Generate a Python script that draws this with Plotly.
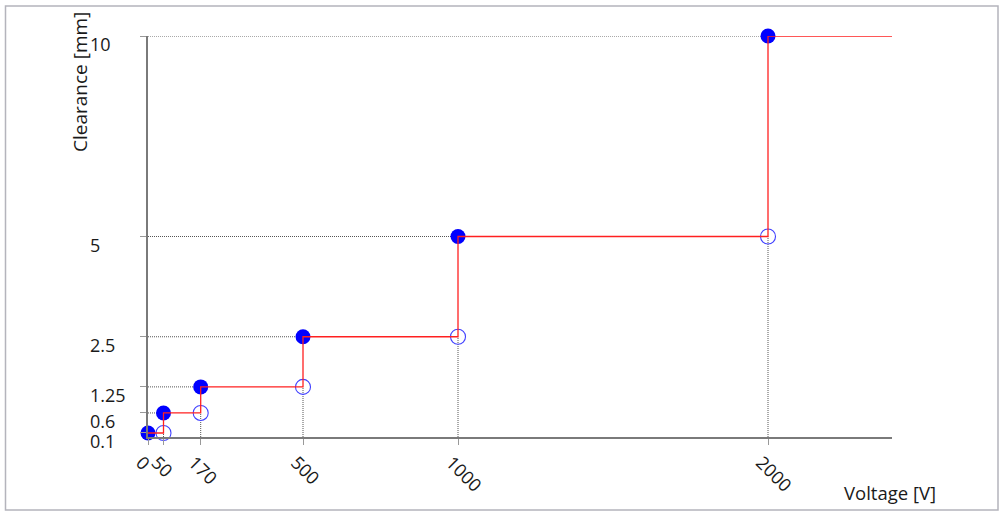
import plotly.graph_objects as go

# Data
voltage = [0, 50, 170, 500, 1000, 2000]
clearance = [0.1, 0.6, 1.25, 2.5, 5, 10]
x_end = 2400
x_ticks = [0, 50, 170, 500, 1000, 2000]
y_ticks = [0.1, 0.6, 1.25, 2.5, 5, 10]
y_tick_labels = ["0.1", "0.6", "1.25", "2.5", "5", "10"]

FONT = "Open Sans"
TXT = "#1a1a1a"

# open markers: step start (left-limit values)
open_x = voltage[1:]
open_y = clearance[:-1]

# step line
step_x = voltage + [x_end]
step_y = clearance + [clearance[-1]]

# dotted drop lines
dx, dy = [], []
for xv, yv, yprev in zip(voltage[1:], clearance[1:], clearance[:-1]):
    dx += [0, xv, None]
    dy += [yv, yv, None]
    dx += [xv, xv, None]
    dy += [0, yprev, None]

fig = go.Figure()
fig.add_trace(go.Scatter(x=dx, y=dy, mode="lines",
                         line=dict(color="#555555", width=1, dash="1px,1px"),
                         hoverinfo="skip", cliponaxis=False))
fig.add_trace(go.Scatter(x=open_x, y=open_y, mode="markers",
                         marker=dict(size=15, color="rgba(0,0,0,0)",
                                     line=dict(color="#4040ff", width=1.1)),
                         cliponaxis=False))
fig.add_trace(go.Scatter(x=voltage, y=clearance, mode="markers",
                         marker=dict(size=15, color="#0000ff", line=dict(width=0)),
                         cliponaxis=False))
fig.add_trace(go.Scatter(x=step_x, y=step_y, mode="lines", line_shape="hv",
                         line=dict(color="#ff2020", width=1.3), cliponaxis=False))

W, H = 1000, 515
L, R, T, B = 148, 108, 36, 78
pw, ph = W - L - R, H - T - B

def px_x(p):
    return (p - L) / pw

def px_y(p):
    return (H - B - p) / ph

annotations = []
for yv, lab in zip(y_ticks, y_tick_labels):
    annotations.append(dict(text=lab, xref="paper", yref="y", x=px_x(88), y=yv,
                            xanchor="left", yanchor="middle", yshift=-8,
                            showarrow=False, font=dict(family=FONT, size=18, color=TXT)))
annotations.append(dict(text="Clearance [mm]", xref="paper", yref="paper",
                        x=px_x(80), y=px_y(82), textangle=-90,
                        xanchor="center", yanchor="middle", showarrow=False,
                        font=dict(family=FONT, size=19, color=TXT)))
annotations.append(dict(text="Voltage [V]", xref="paper", yref="paper",
                        x=px_x(938), y=px_y(492), xanchor="right", yanchor="middle",
                        showarrow=False, font=dict(family=FONT, size=18.5, color=TXT)))

shapes = [dict(type="rect", xref="paper", yref="paper",
               x0=px_x(5.5), x1=px_x(998), y0=px_y(510), y1=px_y(6),
               line=dict(color="#b4b4bc", width=1.5), fillcolor="rgba(0,0,0,0)")]

fig.update_layout(
    width=W, height=H,
    margin=dict(l=L, r=R, t=T, b=B),
    paper_bgcolor="white", plot_bgcolor="white",
    showlegend=False,
    annotations=annotations, shapes=shapes,
    xaxis=dict(range=[0, x_end], tickvals=x_ticks, ticktext=[str(v) for v in x_ticks],
               tickangle=45, showgrid=False, zeroline=False,
               showline=True, linecolor="#7a7a7a", linewidth=2,
               ticks="outside", ticklen=6, tickcolor="#999999", tickwidth=1,
               ticklabelshift=-7,
               tickfont=dict(family=FONT, size=18, color=TXT)),
    yaxis=dict(range=[0, 10], tickvals=y_ticks, showticklabels=False,
               showgrid=False, zeroline=False,
               showline=True, linecolor="#7a7a7a", linewidth=2,
               ticks="outside", ticklen=6, tickcolor="#999999", tickwidth=1),
)

fig.write_html("out.html", config={"displayModeBar": False},
               post_script="document.body.style.margin='0';document.body.style.overflow='hidden';")
